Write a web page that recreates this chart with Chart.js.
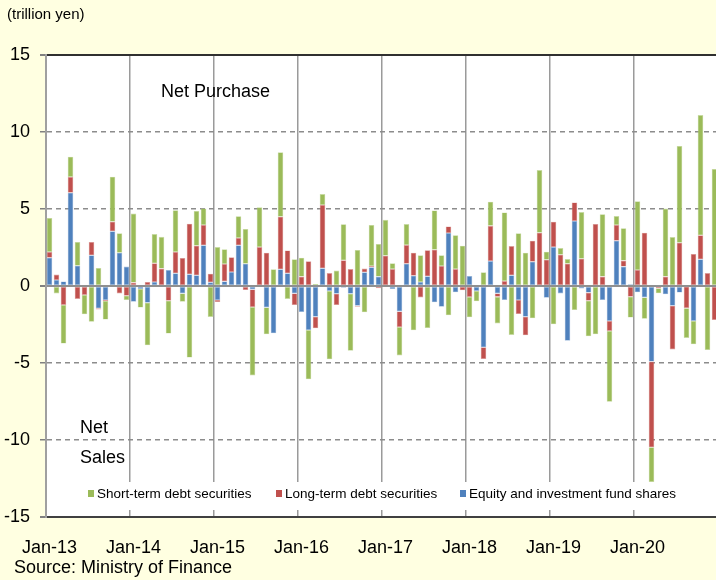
<!DOCTYPE html>
<html>
<head>
<meta charset="utf-8">
<script src="https://cdn.jsdelivr.net/npm/chart.js@4/dist/chart.umd.min.js"></script>
<style>
  html, body { margin: 0; padding: 0; background: #FFFFE1; overflow: hidden; }
  #wrap { position: relative; width: 716px; height: 580px; overflow: hidden;
          font-family: 'Liberation Sans', Arial, sans-serif; color: #000; }
  #box { position: absolute; left: 0; top: 0; width: 718px; height: 580px; }
  .note { position: absolute; white-space: nowrap; }
</style>
</head>
<body>
<div id="wrap">
  <div id="box"><canvas id="flows" width="718" height="580"></canvas></div>
  <div class="note" style="left:7px; top:5px; font-size:15px;">(trillion yen)</div>
  <div class="note" style="left:14px; top:557px; font-size:18px;">Source: Ministry of Finance</div>
</div>
<script>
// monthly net purchases of foreign securities, trillion yen
const years = ['13', '14', '15', '16', '17', '18', '19', '20'];
const monthNames = ['Jan', 'Feb', 'Mar', 'Apr', 'May', 'Jun', 'Jul', 'Aug', 'Sep', 'Oct', 'Nov', 'Dec'];

const equityShares = [
  1.84, 0.39, 0.30, 6.06, 1.32, 0, 1.99, -1.45, -0.91, 3.55, 2.16, 1.26,
  -1.02, -0.19, -1.08, 0.26, 0, 1.04, 0.82, -0.48, 0.76, 0.69, 2.64, 0.24,
  -0.91, 0.30, 0.91, 2.64, 1.45, -0.22, 0, -1.39, -3.07, 1.08, 0.82, -0.48,
  -1.69, -2.86, -1.99, 1.15, -0.32, -0.50, -0.11, -0.50, -1.28, 0.89, 1.21, 0.61,
  0, -0.20, -1.65, 1.45, 0.67, 0.26, 0.63, -1.06, -1.34, 3.44, -0.41, 0,
  0.65, -0.32, -3.98, 1.62, -0.48, -0.91, 0.69, -0.91, -1.99, 1.58, -0.05, -0.76,
  2.53, -0.48, -3.55, 4.22, -0.17, -0.43, 0, -0.91, -2.27, 2.94, 1.26, 0.11,
  -0.41, -0.74, -4.91, 0.05, -0.54, -1.28, -0.43, -0.05, -2.27, 1.73, 0, 0
];
const longTermDebt = [
  0.37, 0.35, -1.23, 1.02, -0.84, -0.58, 0.87, -0.07, -0.06, 0.63, -0.48, -0.63,
  0.22, 0, 0.26, 1.21, 1.13, -0.95, 1.39, 1.82, 3.29, 1.93, 1.32, 0.56,
  -0.13, 1.13, 0.95, 0.48, -0.26, -1.15, 2.53, 2.16, 0, 3.42, 1.49, -0.76,
  0.61, 1.60, -0.76, 4.11, 0.84, -0.74, 1.67, 1.10, -0.06, 0.24, 0.09, -0.15,
  1.97, 1.10, -1.02, 1.21, 1.49, -0.74, 1.69, 2.36, 1.30, 0.43, 1.10, -0.28,
  -0.71, 0, -0.76, 2.29, -0.22, 0.32, 1.90, -0.91, -1.21, 1.36, 3.46, 1.71,
  1.65, 2.03, 1.45, 1.21, 1.77, -0.52, 4.03, 0.61, -0.65, 1.02, 0.39, -0.69,
  1.04, 3.46, -5.56, -0.15, 0.61, -2.84, 2.81, -1.39, 2.08, 1.56, 0.84, -2.21
];
const shortTermDebt = [
  2.21, -0.48, -2.51, 1.32, 1.54, -1.26, -2.32, 1.17, -1.21, 2.92, 1.26, -0.28,
  4.48, -1.21, -2.77, 1.90, 2.06, -2.14, 2.71, -0.54, -4.65, 2.25, 1.08, -2.01,
  2.53, 0.95, 0, 1.41, 2.25, -4.44, 2.58, -1.75, 1.08, 4.18, -0.84, 1.73,
  1.23, -3.20, 0.13, 0.71, -4.44, 1.00, 2.34, -3.70, 2.34, -1.71, 2.66, 2.12,
  2.33, 0.37, -1.84, 1.36, -2.88, 1.73, -2.73, 2.55, 0.69, -1.90, 2.20, 2.62,
  -1.32, -0.67, 0.89, 1.56, -1.73, 4.46, -3.18, 3.42, 2.16, -2.10, 4.07, 0.52,
  -2.49, 0.43, 0.30, -1.56, 3.03, -2.32, -3.14, 4.05, -4.60, 0.58, 2.10, -1.36,
  4.46, -1.39, -2.26, -0.32, 4.42, 3.18, 6.28, -1.93, -1.52, 7.81, -4.16, 7.60
];

const months = [];
years.forEach(y => monthNames.forEach(m => months.push(m + '-' + y)));

const GREEN = '#9BBB59', RED = '#C0504D', BLUE = '#4F81BD';
const GREEN_EDGE = '#C9DCA5', RED_EDGE = '#DDA09E', BLUE_EDGE = '#A3BDDE';

const legendItems = [
  { text: 'Short-term debt securities', color: GREEN, x: 88 },
  { text: 'Long-term debt securities', color: RED, x: 276 },
  { text: 'Equity and investment fund shares', color: BLUE, x: 460 }
];

// yellow page, white plot area
const backdrop = {
  id: 'backdrop',
  beforeDraw(chart) {
    const { ctx, chartArea: a } = chart;
    ctx.save();
    ctx.fillStyle = '#FFFFE1';
    ctx.fillRect(0, 0, chart.width, chart.height);
    ctx.fillStyle = '#ffffff';
    ctx.fillRect(a.left, a.top, a.right - a.left, a.bottom - a.top);
    ctx.restore();
  }
};

// in-plot legend and the purchase / sales captions
const captions = {
  id: 'captions',
  afterDatasetsDraw(chart) {
    const ctx = chart.ctx;
    ctx.save();
    ctx.fillStyle = '#ffffff';
    ctx.fillRect(82, 482, 600, 28);
    ctx.textBaseline = 'middle';
    ctx.font = '13.5px "Liberation Sans", Arial, sans-serif';
    legendItems.forEach(it => {
      ctx.fillStyle = it.color;
      ctx.fillRect(it.x, 490, 6, 7);
      ctx.fillStyle = '#000';
      ctx.fillText(it.text, it.x + 9, 494);
    });
    ctx.font = '18px "Liberation Sans", Arial, sans-serif';
    ctx.fillText('Net Purchase', 161, 92);
    ctx.fillText('Net', 80, 428);
    ctx.fillText('Sales', 80, 458);
    ctx.restore();
  }
};

function dashFor(c) {
  if (!c.tick) return [];
  const v = Math.abs(c.tick.value);
  return (v === 5 || v === 10) ? [5, 4] : [];
}

new Chart(document.getElementById('flows'), {
  type: 'bar',
  data: {
    labels: months,
    datasets: [
      { label: 'Equity and investment fund shares', data: equityShares,
        backgroundColor: BLUE, borderColor: BLUE_EDGE },
      { label: 'Long-term debt securities', data: longTermDebt,
        backgroundColor: RED, borderColor: RED_EDGE },
      { label: 'Short-term debt securities', data: shortTermDebt,
        backgroundColor: GREEN, borderColor: GREEN_EDGE }
    ]
  },
  options: {
    responsive: false,
    animation: false,
    layout: { padding: { top: 55, left: 0, right: 0, bottom: 0 } },
    datasets: { bar: { barPercentage: 0.8, categoryPercentage: 1.0, borderWidth: 0.6, borderSkipped: false } },
    plugins: { legend: { display: false }, tooltip: { enabled: false } },
    scales: {
      x: {
        stacked: true,
        afterFit(scale) { scale.height = 63; },
        grid: {
          offset: true,
          drawTicks: true,
          tickLength: 20,
          tickColor: 'rgba(0,0,0,0)',
          color: c => (c.index % 12 === 0 ? '#9a9a9a' : 'rgba(0,0,0,0)'),
          lineWidth: 1.5
        },
        border: { display: true, color: '#404040', width: 2 },
        ticks: {
          autoSkip: false,
          maxRotation: 0,
          minRotation: 0,
          padding: 0,
          color: '#000',
          font: { family: '"Liberation Sans", Arial, sans-serif', size: 18 },
          callback(value) {
            const lab = this.getLabelForValue(value);
            return lab.startsWith('Jan') ? lab : '';
          }
        }
      },
      y: {
        stacked: true,
        min: -15,
        max: 15,
        afterFit(scale) { scale.width = 46; },
        grid: {
          drawTicks: true,
          tickLength: 6,
          tickColor: '#808080',
          color: c => {
            const v = c.tick.value;
            if (v === 15 || v === -15) return '#303030';
            if (v === 0) return '#909090';
            return '#8c8c8c';
          },
          lineWidth: c => {
            const v = c.tick.value;
            return (v === 0 || v === 15 || v === -15) ? 2 : 1.5;
          }
        },
        border: { display: true, color: '#a0a0a0', width: 2, dash: dashFor },
        ticks: {
          stepSize: 5,
          padding: 10,
          color: '#000',
          font: { family: '"Liberation Sans", Arial, sans-serif', size: 18 }
        }
      }
    }
  },
  plugins: [backdrop, captions]
});
</script>
</body>
</html>
